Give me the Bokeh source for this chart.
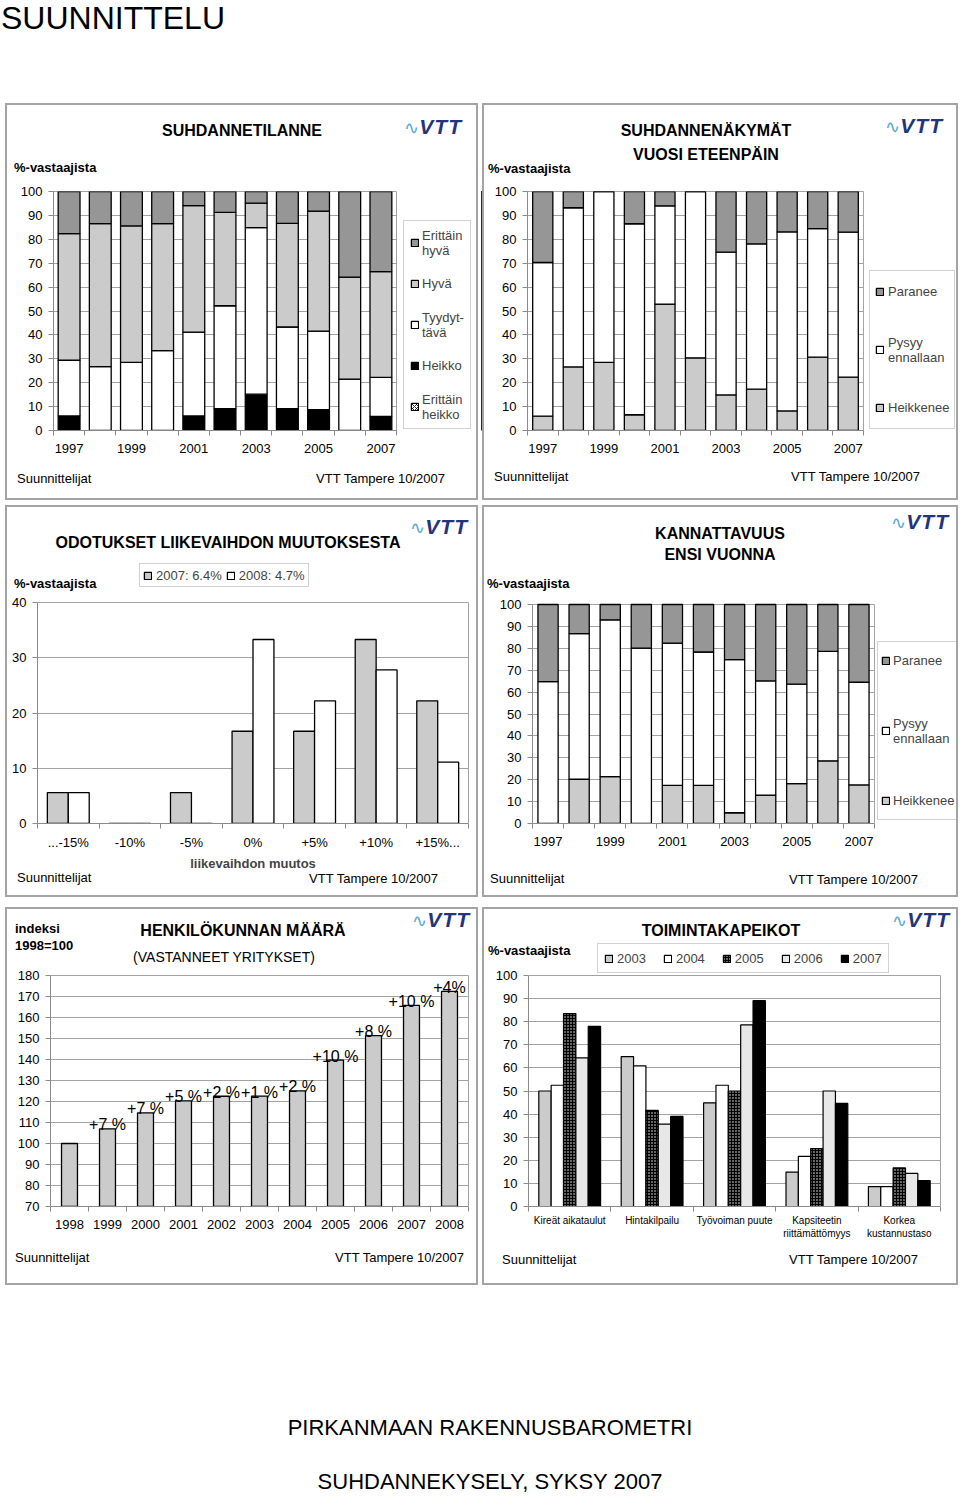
from bokeh.plotting import figure
from bokeh.models import (Legend, LegendItem, FixedTicker, Range1d, LinearAxis,
                          ColumnDataSource, Div, Spacer)
from bokeh.layouts import column, row
from bokeh.transform import dodge
from bokeh.core.properties import value
from bokeh.embed import file_html
from bokeh.resources import INLINE

FONT = "Liberation Sans"
GRID = "#a3a3a3"
AXIS = "#8a8a8a"
DARK = "#969696"
LIGHT = "#cbcbcb"

# ---------------- data ----------------
# 1: SUHDANNETILANNE (stacked, %)
c1_years = [1997, 1998, 1999, 2000, 2001, 2002, 2003, 2004, 2005, 2006, 2007]
c1_erittain_heikko = [0, 0, 0, 0, 0, 0, 0, 0, 0, 0, 0]
c1_heikko = [6.1, 0, 0, 0, 6.1, 9.1, 15.2, 9.1, 8.7, 0, 5.9]
c1_tyydyttava = [23.3, 26.7, 28.5, 33.4, 35.1, 43.1, 69.7, 34.2, 32.9, 21.5, 16.3]
c1_hyva = [53.0, 59.9, 57.1, 53.2, 52.9, 39.1, 10.2, 43.4, 50.2, 42.7, 44.3]
c1_erittain_hyva = [17.6, 13.4, 14.4, 13.4, 5.9, 8.7, 4.9, 13.3, 8.2, 35.8, 33.5]
c1_legend = ["Erittäin\nhyvä", "Hyvä", "Tyydyt-\ntävä", "Heikko", "Erittäin\nheikko"]

# 2: SUHDANNENÄKYMÄT VUOSI ETEENPÄIN
c2_years = [1997, 1998, 1999, 2000, 2001, 2002, 2003, 2004, 2005, 2006, 2007]
c2_heikkenee = [6.0, 26.6, 28.5, 6.6, 52.9, 30.4, 14.9, 17.3, 8.2, 30.7, 22.3]
c2_pysyy = [64.3, 66.6, 71.5, 79.9, 41.1, 69.6, 59.7, 60.8, 74.9, 53.8, 60.7]
c2_paranee = [29.7, 6.8, 0, 13.5, 6.0, 0, 25.4, 21.9, 16.9, 15.5, 17.0]
c24_legend = ["Paranee", "Pysyy\nennallaan", "Heikkenee"]

# 3: ODOTUKSET LIIKEVAIHDON MUUTOKSESTA
c3_categories = ["...-15%", "-10%", "-5%", "0%", "+5%", "+10%", "+15%..."]
c3_2007 = [5.6, 0, 5.6, 16.7, 16.7, 33.3, 22.2]
c3_2008 = [5.6, 0, 0, 33.3, 22.2, 27.8, 11.1]
c3_legend = ["2007: 6.4%", "2008: 4.7%"]

# 4: KANNATTAVUUS ENSI VUONNA
c4_years = [1997, 1998, 1999, 2000, 2001, 2002, 2003, 2004, 2005, 2006, 2007]
c4_heikkenee = [0, 20.2, 21.4, 0, 17.4, 17.4, 4.9, 13.0, 18.2, 28.6, 17.6]
c4_pysyy = [64.8, 66.5, 71.6, 80.1, 65.0, 60.9, 69.9, 52.1, 45.4, 50.0, 46.9]
c4_paranee = [35.2, 13.3, 7.0, 19.9, 17.6, 21.7, 25.2, 34.9, 36.4, 21.4, 35.5]

# 5: HENKILÖKUNNAN MÄÄRÄ (index 1998=100)
c5_years = [1998, 1999, 2000, 2001, 2002, 2003, 2004, 2005, 2006, 2007, 2008]
c5_index = [100, 107, 114.6, 120.3, 122.5, 122.6, 125.1, 139.7, 151.4, 165.8, 172.4]
c5_labels = ["", "+7 %", "+7 %", "+5 %", "+2 %", "+1 %", "+2 %", "+10 %", "+8 %", "+10 %", "+4%"]

# 6: TOIMINTAKAPEIKOT
c6_categories = ["Kireät aikataulut", "Hintakilpailu", "Työvoiman puute",
                 "Kapsiteetin\nriittämättömyys", "Korkea\nkustannustaso"]
c6_series = ["2003", "2004", "2005", "2006", "2007"]
c6_2003 = [50.0, 64.9, 44.9, 14.9, 8.6]
c6_2004 = [52.5, 60.9, 52.5, 21.7, 8.6]
c6_2005 = [83.5, 41.6, 50.0, 25.1, 16.7]
c6_2006 = [64.3, 35.7, 78.6, 50.0, 14.3]
c6_2007 = [78.0, 39.0, 89.1, 44.6, 11.2]


# ---------------- helpers ----------------
def make_fig(w, h, left, right, top, bottom, x_range, y_range, outline=True):
    p = figure(width=w, height=h, x_range=x_range, y_range=y_range,
               min_border_left=left, min_border_right=right,
               min_border_top=top, min_border_bottom=bottom,
               output_backend="svg", toolbar_location=None,
               background_fill_color=None, border_fill_color=None,
               outline_line_color=GRID if outline else None)
    p.xgrid.grid_line_color = None
    p.ygrid.grid_line_color = GRID
    for ax in (p.xaxis[0], p.yaxis[0]):
        ax.major_label_text_font = FONT
        ax.major_label_text_font_size = "13px"
        ax.major_label_text_color = "black"
        ax.axis_line_color = AXIS
        ax.major_tick_line_color = AXIS
        ax.minor_tick_line_color = AXIS
    p.yaxis.major_tick_out = 5
    p.yaxis.major_tick_in = 0
    p.yaxis.minor_tick_line_color = None
    p.yaxis.major_label_standoff = 6
    p.xaxis.major_tick_out = 0
    p.xaxis.major_tick_in = 0
    p.xaxis.minor_tick_out = 5
    p.xaxis.minor_tick_in = 0
    p.xaxis.major_label_standoff = 8
    return p


def legend_fig(w, h, top, bottom):
    q = figure(width=w, height=h, x_range=Range1d(0, 1), y_range=Range1d(0, 1),
               min_border_left=0, min_border_right=0,
               min_border_top=top, min_border_bottom=bottom,
               x_axis_location=None, y_axis_location=None,
               output_backend="svg", toolbar_location=None,
               background_fill_color=None, border_fill_color=None,
               outline_line_color=None)
    q.grid.visible = False
    return q


def style_legend(leg, padding, spacing, label_height=16):
    leg.label_text_font = FONT
    leg.label_text_font_size = "13px"
    leg.glyph_width = 9
    leg.glyph_height = 9
    leg.label_standoff = 4
    leg.label_height = label_height
    leg.padding = padding
    leg.spacing = spacing
    leg.border_line_color = GRID
    leg.border_line_width = 1
    leg.background_fill_color = "white"
    leg.margin = 0


def frame_line(p, lo, hi):
    ax = LinearAxis(bounds=(lo, hi), ticker=FixedTicker(ticks=[]),
                    axis_line_color=GRID, major_tick_line_color=None,
                    minor_tick_line_color=None, major_label_text_font_size="0px")
    p.add_layout(ax, "right")


def bounds(xs):
    return [x - 0.5 for x in xs] + [xs[-1] + 0.5]


BAR = dict(line_color="black", line_width=1.3)

# layout (pixels): every plot in a row shares the same top / bottom border
ROW_TOPS = [103, 505, 907]
ROW_H = [397, 392, 378]
R1_T, R1_B = 88, 70
R2_T, R2_B = 55, 74
R3_T, R3_B = 33, 79

# ---------------- chart 1 ----------------
p1 = make_fig(398, ROW_H[0], 53, 2, R1_T, R1_B,
              Range1d(c1_years[0] - 0.5, c1_years[-1] + 0.5), Range1d(0, 100))
p1.yaxis.ticker = FixedTicker(ticks=list(range(0, 101, 10)))
p1.xaxis.ticker = FixedTicker(ticks=c1_years[::2], minor_ticks=bounds(c1_years))
src1 = ColumnDataSource(dict(year=c1_years, eh=c1_erittain_heikko, h=c1_heikko,
                             t=c1_tyydyttava, hy=c1_hyva, ehy=c1_erittain_hyva))
fills1 = ["white", "black", "white", LIGHT, DARK]
stack1 = ["eh", "h", "t", "hy", "ehy"]
rs1 = p1.vbar_stack(stack1, x="year", width=0.7, source=src1, fill_color=fills1, **BAR)

# legend panel (same stacks, drawn outside its own visible range)
q1 = legend_fig(84, ROW_H[0], R1_T, R1_B)
prox1 = q1.vbar_stack(stack1, x="year", width=0.7, source=src1, fill_color=fills1, **BAR)
for r in (rs1[0], prox1[0]):
    r.glyph.hatch_pattern = "x"
    r.glyph.hatch_color = "black"
    r.glyph.hatch_scale = 4
    r.glyph.hatch_weight = 0.8
leg1 = Legend(items=[LegendItem(label=lbl, renderers=[r])
                     for lbl, r in zip(c1_legend, prox1[::-1])], location=(5, 1))
style_legend(leg1, padding=6, spacing=10, label_height=31)
leg1.label_standoff = 3
q1.add_layout(leg1)

# ---------------- chart 2 ----------------
p2 = make_fig(384, ROW_H[0], 45, 3, R1_T, R1_B,
              Range1d(c2_years[0] - 0.5, c2_years[-1] + 0.5), Range1d(0, 100))
p2.yaxis.ticker = FixedTicker(ticks=list(range(0, 101, 10)))
p2.xaxis.ticker = FixedTicker(ticks=c2_years[::2], minor_ticks=bounds(c2_years))
src2 = ColumnDataSource(dict(year=c2_years, hk=c2_heikkenee, py=c2_pysyy, pa=c2_paranee))
fills24 = [LIGHT, "white", DARK]
p2.vbar_stack(["hk", "py", "pa"], x="year", width=0.66, source=src2,
              fill_color=fills24, **BAR)
q2 = legend_fig(92, ROW_H[0], R1_T, R1_B)
prox2 = q2.vbar_stack(["hk", "py", "pa"], x="year", width=0.66, source=src2,
                      fill_color=fills24, **BAR)
leg2 = Legend(items=[LegendItem(label=lbl, renderers=[r])
                     for lbl, r in zip(c24_legend, prox2[::-1])], location=(3, 1))
style_legend(leg2, padding=5, spacing=27, label_height=31)
q2.add_layout(leg2)

# ---------------- chart 3 ----------------
idx3 = list(range(len(c3_categories)))
Y3_TOP = 40
p3 = make_fig(482, ROW_H[1], 37, 14, R2_T, R2_B, Range1d(-0.5, len(idx3) - 0.5),
              Range1d(0, Y3_TOP * 263 / 221), outline=False)
p3.yaxis.ticker = FixedTicker(ticks=[0, 10, 20, 30, 40])
p3.yaxis.bounds = (0, Y3_TOP)
frame_line(p3, 0, Y3_TOP)
p3.xaxis.ticker = FixedTicker(ticks=idx3, minor_ticks=bounds(idx3))
p3.xaxis.major_label_overrides = {i: c for i, c in zip(idx3, c3_categories)}
p3.xaxis.major_label_standoff = 6
p3.xaxis.axis_label = "liikevaihdon muutos"
p3.xaxis.axis_label_text_font = FONT
p3.xaxis.axis_label_text_font_size = "13px"
p3.xaxis.axis_label_text_font_style = "bold"
p3.xaxis.axis_label_standoff = 3
src3 = ColumnDataSource(dict(i=idx3, a=c3_2007, b=c3_2008))
r3a = p3.vbar(x=dodge("i", -0.17), top="a", width=0.34, source=src3, fill_color=LIGHT, **BAR)
r3b = p3.vbar(x=dodge("i", 0.17), top="b", width=0.34, source=src3, fill_color="white", **BAR)
leg3 = Legend(items=[LegendItem(label=c3_legend[0], renderers=[r3a]),
                     LegendItem(label=c3_legend[1], renderers=[r3b])],
              orientation="horizontal", location=(102, 236))
style_legend(leg3, padding=3, spacing=4)
p3.add_layout(leg3)

# ---------------- chart 4 ----------------
Y4_TOP = 100
p4 = make_fig(395, ROW_H[1], 50, 3, R2_T, R2_B,
              Range1d(c4_years[0] - 0.5, c4_years[-1] + 0.5),
              Range1d(0, Y4_TOP * 263 / 219), outline=False)
p4.yaxis.ticker = FixedTicker(ticks=list(range(0, Y4_TOP + 1, 10)))
p4.yaxis.bounds = (0, Y4_TOP)
frame_line(p4, 0, Y4_TOP)
p4.xaxis.ticker = FixedTicker(ticks=c4_years[::2], minor_ticks=bounds(c4_years))
src4 = ColumnDataSource(dict(year=c4_years, hk=c4_heikkenee, py=c4_pysyy, pa=c4_paranee))
p4.vbar_stack(["hk", "py", "pa"], x="year", width=0.65, source=src4,
              fill_color=fills24, **BAR)
q4 = legend_fig(81, ROW_H[1], R2_T, R2_B)
prox4 = q4.vbar_stack(["hk", "py", "pa"], x="year", width=0.65, source=src4,
                      fill_color=fills24, **BAR)
leg4 = Legend(items=[LegendItem(label=lbl, renderers=[r])
                     for lbl, r in zip(c24_legend, prox4[::-1])], location=(0, 3))
style_legend(leg4, padding=3, spacing=39, label_height=31)
leg4.label_standoff = 3
q4.add_layout(leg4)

# ---------------- chart 5 ----------------
Y5_MIN, Y5_MAX = 70, 180
p5 = make_fig(482, ROW_H[2], 50, 14, R3_T, R3_B,
              Range1d(c5_years[0] - 0.5, c5_years[-1] + 0.5),
              Range1d(Y5_MIN, Y5_MIN + (Y5_MAX - Y5_MIN) * 266 / 231), outline=False)
p5.yaxis.ticker = FixedTicker(ticks=list(range(Y5_MIN, Y5_MAX + 1, 10)))
p5.yaxis.bounds = (Y5_MIN, Y5_MAX)
frame_line(p5, Y5_MIN, Y5_MAX)
p5.xaxis.ticker = FixedTicker(ticks=c5_years, minor_ticks=bounds(c5_years))
src5 = ColumnDataSource(dict(year=c5_years, idx=c5_index, label=c5_labels))
p5.vbar(x="year", top="idx", bottom=Y5_MIN, width=0.42, source=src5, fill_color=LIGHT, **BAR)
p5.text(x="year", y="idx", text="label", source=src5, text_font=value(FONT),
        text_font_size=value("16px"), text_align="center", text_baseline="alphabetic",
        y_offset=-4, text_color="black")

# ---------------- chart 6 ----------------
idx6 = list(range(len(c6_categories)))
Y6_TOP = 100
p6 = make_fig(476, ROW_H[2], 46, 18, R3_T, R3_B, Range1d(-0.5, len(idx6) - 0.5),
              Range1d(0, Y6_TOP * 266 / 231), outline=False)
p6.yaxis.ticker = FixedTicker(ticks=list(range(0, Y6_TOP + 1, 10)))
p6.yaxis.bounds = (0, Y6_TOP)
frame_line(p6, 0, Y6_TOP)
p6.xaxis.ticker = FixedTicker(ticks=idx6, minor_ticks=bounds(idx6))
p6.xaxis.major_label_overrides = {i: c for i, c in zip(idx6, c6_categories)}
p6.xaxis.major_label_text_font_size = "10px"
p6.xaxis.major_label_standoff = 3
src6 = ColumnDataSource(dict(i=idx6, s2003=c6_2003, s2004=c6_2004, s2005=c6_2005,
                             s2006=c6_2006, s2007=c6_2007))
fills6 = [LIGHT, "white", "black", "#e8e8e8", "black"]
r6 = []
for k, (name, fc) in enumerate(zip(c6_series, fills6)):
    r = p6.vbar(x=dodge("i", (k - 2) * 0.15), top="s" + name, width=0.15, source=src6,
                fill_color=fc, line_color="black", line_width=1.2)
    r6.append(r)
r6[2].glyph.hatch_pattern = "."
r6[2].glyph.hatch_color = "white"
r6[2].glyph.hatch_scale = 3
r6[2].glyph.hatch_weight = 1
leg6 = Legend(items=[LegendItem(label=n, renderers=[r]) for n, r in zip(c6_series, r6)],
              orientation="horizontal", location=(69, 233))
style_legend(leg6, padding=6, spacing=17)
p6.add_layout(leg6)

# ---------------- page texts (HTML overlay) ----------------
X_L, GAP = 5, 4
boxes = [(X_L, ROW_TOPS[0], 473, 397), (X_L + 473 + GAP, ROW_TOPS[0], 476, 397),
         (X_L, ROW_TOPS[1], 473, 392), (X_L + 473 + GAP, ROW_TOPS[1], 476, 392),
         (X_L, ROW_TOPS[2], 473, 378), (X_L + 473 + GAP, ROW_TOPS[2], 476, 378)]


def t(x, y, s, size=13, bold=False, align="left", color="black", lh=None):
    L = lh if lh is not None else round(size * 1.2)
    tr = {"left": "none", "center": "translateX(-50%)", "right": "translateX(-100%)"}[align]
    fw = "bold" if bold else "normal"
    return (f'<div style="position:absolute;left:{x}px;top:{y - L / 2:.1f}px;'
            f'height:{L}px;line-height:{L}px;font-size:{size}px;font-weight:{fw};'
            f'white-space:nowrap;color:{color};transform:{tr};">{s}</div>')


def logo(xr, yc):
    return (f'<div style="position:absolute;left:{xr}px;top:{yc - 12}px;height:24px;'
            f'line-height:24px;white-space:nowrap;transform:translateX(-100%);">'
            f'<span style="color:#5aa7d8;font-size:18px;">&#8767;</span>'
            f'<span style="color:#24337a;font-size:21px;font-weight:bold;font-style:italic;'
            f'letter-spacing:1px;">VTT</span></div>')


parts = []
for (bx, by, bw, bh) in boxes:
    parts.append(f'<div style="position:absolute;left:{bx}px;top:{by}px;width:{bw}px;'
                 f'height:{bh}px;box-sizing:border-box;border:2px solid #a4a4a4;"></div>')
parts += [
    t(1, 18, "SUUNNITTELU", size=32, lh=36),
    # panel 1
    t(242, 130, "SUHDANNETILANNE", 16, True, "center"),
    t(14, 168, "%-vastaajista", 13, True),
    t(17, 479, "Suunnittelijat"), t(445, 479, "VTT Tampere 10/2007", align="right"),
    logo(462, 127),
    # panel 2
    t(706, 130, "SUHDANNENÄKYMÄT", 16, True, "center"),
    t(706, 154, "VUOSI ETEENPÄIN", 16, True, "center"),
    t(488, 169, "%-vastaajista", 13, True),
    t(494, 477, "Suunnittelijat"), t(920, 477, "VTT Tampere 10/2007", align="right"),
    logo(943, 126),
    # panel 3
    t(228, 542, "ODOTUKSET LIIKEVAIHDON MUUTOKSESTA", 16, True, "center"),
    t(14, 584, "%-vastaajista", 13, True),
    t(17, 878, "Suunnittelijat"), t(438, 879, "VTT Tampere 10/2007", align="right"),
    logo(468, 527),
    # panel 4
    t(720, 533, "KANNATTAVUUS", 16, True, "center"),
    t(720, 554, "ENSI VUONNA", 16, True, "center"),
    t(487, 584, "%-vastaajista", 13, True),
    t(490, 879, "Suunnittelijat"), t(918, 880, "VTT Tampere 10/2007", align="right"),
    logo(949, 522),
    # panel 5
    t(15, 929, "indeksi", 13, True), t(15, 946, "1998=100", 13, True),
    t(243, 930, "HENKILÖKUNNAN MÄÄRÄ", 16, True, "center"),
    t(224, 957, "(VASTANNEET YRITYKSET)", 14, False, "center"),
    t(15, 1258, "Suunnittelijat"), t(464, 1258, "VTT Tampere 10/2007", align="right"),
    logo(470, 920),
    # panel 6
    t(721, 930, "TOIMINTAKAPEIKOT", 16, True, "center"),
    t(488, 951, "%-vastaajista", 13, True),
    t(502, 1260, "Suunnittelijat"), t(918, 1260, "VTT Tampere 10/2007", align="right"),
    logo(950, 920),
    # page footer
    t(490, 1428, "PIRKANMAAN RAKENNUSBAROMETRI", 22, align="center", lh=22),
    t(490, 1482, "SUHDANNEKYSELY, SYKSY 2007", 22, align="center", lh=22),
]

PAGE_W, PAGE_H = 958, 1496
overlay = Div(text=(f"<div style=\"position:relative;width:{PAGE_W}px;height:{PAGE_H}px;"
                    f"font-family:'{FONT}';\">" + "".join(parts) + "</div>"),
              width=PAGE_W, height=PAGE_H, margin=(0, 0, 0, 0),
              styles={"position": "absolute", "left": "0px", "top": "0px",
                      "margin": "0px", "padding": "0px"})

page = column(Spacer(width=PAGE_W, height=ROW_TOPS[0]),
              row(p1, q1, p2, q2),
              Spacer(width=PAGE_W, height=ROW_TOPS[1] - ROW_TOPS[0] - ROW_H[0]),
              row(p3, p4, q4),
              Spacer(width=PAGE_W, height=ROW_TOPS[2] - ROW_TOPS[1] - ROW_H[1]),
              row(p5, p6),
              Spacer(width=PAGE_W, height=PAGE_H - ROW_TOPS[2] - ROW_H[2]),
              overlay,
              styles={"position": "relative"})

open("out.html", "w").write(file_html(page, INLINE))
